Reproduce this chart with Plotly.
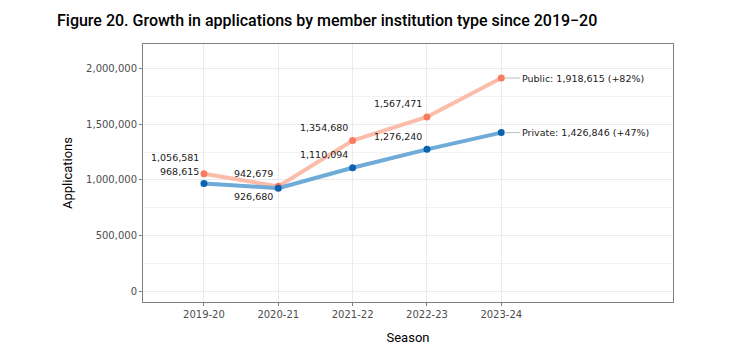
import plotly.graph_objects as go

seasons = ["2019-20", "2020-21", "2021-22", "2022-23", "2023-24"]
public = [1056581, 942679, 1354680, 1567471, 1918615]
private = [968615, 926680, 1110094, 1276240, 1426846]
public_end_label = "Public: 1,918,615 (+82%)"
private_end_label = "Private: 1,426,846 (+47%)"
title_text = "Figure 20. Growth in applications by member institution type since 2019\u221220"

# label pixel offsets (style only)
pub_yshift = [16, 13, 13, 13.5]
priv_yshift = [11.5, -8.5, 13, 13]

xi = list(range(len(seasons)))

fig = go.Figure()
fig.add_trace(go.Scatter(x=xi, y=public, mode="lines", line=dict(color="#fcbcaa", width=4),
                         showlegend=False, hoverinfo="skip"))
fig.add_trace(go.Scatter(x=xi, y=private, mode="lines", line=dict(color="#6eabd8", width=4),
                         showlegend=False, hoverinfo="skip"))
fig.add_trace(go.Scatter(x=xi, y=public, mode="markers", marker=dict(color="#fb7b60", size=7),
                         showlegend=False))
fig.add_trace(go.Scatter(x=xi, y=private, mode="markers", marker=dict(color="#0b62b0", size=7),
                         showlegend=False))

lab_font = dict(family="DejaVu Sans", size=9.5, color="#1a1a1a")
for i in range(len(seasons) - 1):
    fig.add_annotation(x=xi[i], y=public[i], text=f"{public[i]:,}", showarrow=False,
                       xanchor="right", yanchor="middle", xshift=-3, yshift=pub_yshift[i], font=lab_font)
    fig.add_annotation(x=xi[i], y=private[i], text=f"{private[i]:,}", showarrow=False,
                       xanchor="right", yanchor="middle", xshift=-3, yshift=priv_yshift[i], font=lab_font)

for val, txt in [(public[-1], public_end_label), (private[-1], private_end_label)]:
    fig.add_annotation(x=xi[-1], y=val, text=txt, showarrow=True, arrowhead=0, arrowwidth=1,
                       arrowcolor="#bdbdbd", ax=19, ay=0, xanchor="left", yanchor="middle",
                       standoff=3, font=lab_font)

fig.update_layout(
    width=756, height=354,
    margin=dict(l=143, r=83, t=44, b=52),
    paper_bgcolor="white", plot_bgcolor="white",
    title=dict(text=title_text, x=57 / 756, xanchor="left", y=1 - 20 / 354, yanchor="middle",
               font=dict(family="Roboto", size=16, color="black", weight=500)),
    xaxis=dict(range=[-0.82, 6.31], tickmode="array", tickvals=xi, ticktext=seasons,
               showgrid=True, gridcolor="#ebebeb", gridwidth=1, zeroline=False,
               showline=True, linecolor="#7f7f7f", linewidth=1, mirror=True,
               ticks="outside", ticklen=3, tickcolor="#7f7f7f", automargin=False,
               tickfont=dict(family="DejaVu Sans", size=10, color="#4d4d4d"),
               title=dict(text="Season", font=dict(family="Roboto", size=13, color="black"), standoff=13)),
    yaxis=dict(range=[-99000, 2225000], tickmode="array", tickvals=[0, 500000, 1000000, 1500000, 2000000],
               tickformat=",", showgrid=True, gridcolor="#ebebeb", gridwidth=1, zeroline=False,
               minor=dict(tickmode="array", tickvals=[250000, 750000, 1250000, 1750000],
                          showgrid=True, gridcolor="#f2f2f2", gridwidth=1, ticks=""),
               showline=True, linecolor="#7f7f7f", linewidth=1, mirror=True,
               ticks="outside", ticklen=3, tickcolor="#7f7f7f", automargin=False,
               tickfont=dict(family="DejaVu Sans", size=10, color="#4d4d4d"),
               title=dict(text="Applications", font=dict(family="Roboto", size=13, color="black"), standoff=10)),
)

fig.write_html("out.html")
